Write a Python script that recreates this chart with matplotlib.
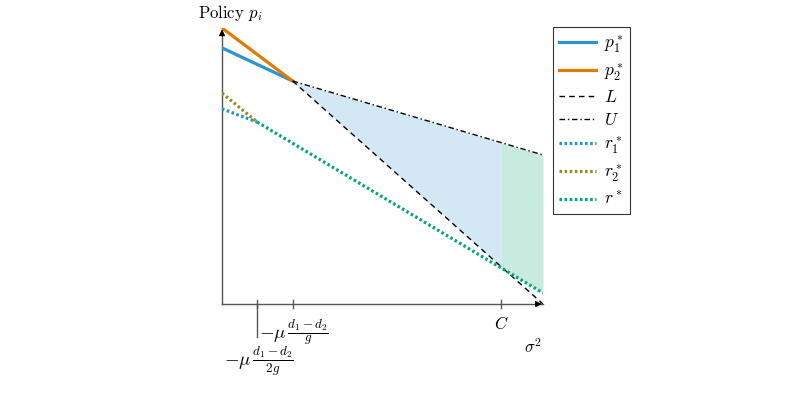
import matplotlib
matplotlib.use("Agg")
import matplotlib.pyplot as plt
import numpy as np

plt.rcParams['mathtext.fontset'] = 'cm'
plt.rcParams['font.family'] = ['cmr10', 'DejaVu Serif']
plt.rcParams['axes.unicode_minus'] = False

# Data (schematic units)
x_half = 1.1      # -mu (d1-d2)/2g
x_full = 2.2      # -mu (d1-d2)/g
x_C = 8.7
x_end = 10.0

p1_x = [0.0, x_full]; p1_y = [9.28, 8.08]
p2_x = [0.0, x_full]; p2_y = [10.0, 8.08]
L_x = [x_full, x_end]; L_y = [8.08, 0.0]
U_x = [x_full, x_end]; U_y = [8.08, 5.4]
r1_x = [0.0, x_half]; r1_y = [7.07, 6.59]
r2_x = [0.0, x_half]; r2_y = [7.64, 6.59]
r_x = [x_half, x_end]; r_y = [6.59, 0.4]

tick_pos = [x_half, x_full, x_C]

c_p1 = '#2b93d0'
c_p2 = '#e07b00'
c_r1 = '#1b98c0'
c_r2 = '#9a8a1e'
c_r = '#00a57a'
c_fill1 = '#d3e7f4'
c_fill2 = '#c8eadf'

fig = plt.figure(figsize=(8.12, 4.03), dpi=100)
ax = fig.add_axes([222/812, 1-304/403, (543-222)/812, (304-28)/403])
ax.set_xlim(0, x_end)
ax.set_ylim(0, 10)

# fills
xs1 = np.linspace(x_full, x_C, 50)
ax.fill_between(xs1, np.interp(xs1, L_x, L_y), np.interp(xs1, U_x, U_y),
                color=c_fill1, lw=0, zorder=1)
xs2 = np.linspace(x_C, x_end, 50)
ax.fill_between(xs2, np.interp(xs2, r_x, r_y), np.interp(xs2, U_x, U_y),
                color=c_fill2, lw=0, zorder=1)

ax.plot(p1_x, p1_y, color=c_p1, lw=2.3, label=r'$p_1^*$', zorder=3)
ax.plot(p2_x, p2_y, color=c_p2, lw=2.3, label=r'$p_2^*$', zorder=3)
ax.plot(L_x, L_y, color='black', lw=1.0, ls=(0, (4, 3)), label=r'$L$', zorder=3)
ax.plot(U_x, U_y, color='black', lw=1.0, ls=(0, (4, 2, 1, 2)), label=r'$U$', zorder=3)
ax.plot(r1_x, r1_y, color=c_r1, lw=2.3, ls=(0, (0.8, 0.8)), label=r'$r_1^*$', zorder=4)
ax.plot(r2_x, r2_y, color=c_r2, lw=2.3, ls=(0, (0.8, 0.8)), label=r'$r_2^*$', zorder=4)
ax.plot(r_x, r_y, color=c_r, lw=2.3, ls=(0, (0.8, 0.8)), label=r'$r^*$', zorder=4)

for s in ['top', 'right']:
    ax.spines[s].set_visible(False)
for s in ['left', 'bottom']:
    ax.spines[s].set_color('#555555')
    ax.spines[s].set_linewidth(1.0)
ax.set_xticks([]); ax.set_yticks([])

# arrows
ax.annotate('', xy=(x_end + 0.05, 0), xytext=(x_end - 0.3, 0),
            arrowprops=dict(arrowstyle='-|>', color='black', lw=0.8, mutation_scale=9),
            annotation_clip=False)
ax.annotate('', xy=(0, 10.05), xytext=(0, 9.7),
            arrowprops=dict(arrowstyle='-|>', color='black', lw=0.8, mutation_scale=9),
            annotation_clip=False)

# ticks
tick_len = 4/27.6
for xp in tick_pos:
    ax.plot([xp, xp], [-tick_len, tick_len], color='#555555', lw=1.0, clip_on=False, zorder=5)
# long leader tick at half position
ax.plot([x_half, x_half], [0, -33/27.6], color='#555555', lw=1.0, clip_on=False, zorder=5)

ax.text(x_full + 0.05, -0.48, r'$-\mu\,\frac{d_1-d_2}{g}$', ha='center', va='top', fontsize=13.5)
ax.text(x_half + 0.05, -1.48, r'$-\mu\,\frac{d_1-d_2}{2g}$', ha='center', va='top', fontsize=13.5)
ax.text(x_C, -0.4, r'$C$', ha='center', va='top', fontsize=12)
ax.text(9.7, -1.25, r'$\sigma^2$', ha='center', va='top', fontsize=12)
ax.text(0.25, 10.38, r'Policy $p_i$', ha='center', va='baseline', fontsize=12)

leg = fig.legend(loc='upper left', bbox_to_anchor=(553/812, 1-27/403),
                 frameon=True, fancybox=False, edgecolor='black', fontsize=12.5,
                 handlelength=2.1, borderpad=0.35, labelspacing=0.38,
                 handletextpad=0.5, borderaxespad=0)
leg.get_frame().set_linewidth(0.8)

fig.savefig('out.png', dpi=100)
